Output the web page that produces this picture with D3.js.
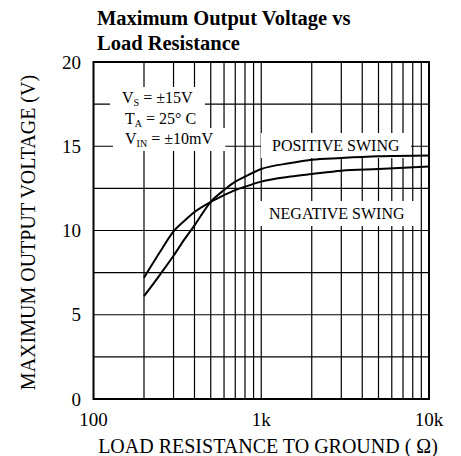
<!DOCTYPE html>
<html>
<head>
<meta charset="utf-8">
<script src="https://cdn.jsdelivr.net/npm/d3@7"></script>
<style>
  body { margin: 0; background: #fff; }
  text { font-family: "Liberation Serif", "Times New Roman", serif; fill: #000; }
</style>
</head>
<body>
<div id="chart"></div>
<script>
// Values
const resistance = [200, 250, 300, 350, 400, 500, 600, 700, 800, 1000, 1500, 2000, 3000, 5000, 10000];
const positiveSwing = [6.1, 7.4, 8.5, 9.5, 10.3, 11.7, 12.4, 12.9, 13.2, 13.65, 14.0, 14.2, 14.3, 14.4, 14.45];
const negativeSwing = [7.2, 8.75, 9.95, 10.6, 11.1, 11.7, 12.1, 12.4, 12.6, 12.9, 13.2, 13.35, 13.55, 13.65, 13.8];

const xTicks = [100, 1000, 10000];
const xTickLabels = ["100", "1k", "10k"];
const yTicks = [0, 5, 10, 15, 20];
const yGridLines = [2.5, 5, 7.5, 10, 12.5, 15, 17.5];

const width = 461, height = 456;
const plot = { left: 93.5, right: 429, top: 62, bottom: 399 };

const svg = d3.select('#chart').append('svg')
    .attr('width', width)
    .attr('height', height);

const x = d3.scaleLog().domain([100, 10000]).range([plot.left, plot.right]);
const y = d3.scaleLinear().domain([0, 20]).range([plot.bottom, plot.top]);

// grid
const grid = svg.append('g').attr('stroke', '#000').attr('stroke-width', 1.2);
grid.selectAll('.vgrid')
    .data(x.ticks().filter(d => d > 100 && d < 10000))
    .enter().append('line')
    .attr('x1', d => x(d)).attr('x2', d => x(d))
    .attr('y1', plot.top).attr('y2', plot.bottom);
grid.selectAll('.hgrid')
    .data(yGridLines)
    .enter().append('line')
    .attr('x1', plot.left).attr('x2', plot.right)
    .attr('y1', d => y(d)).attr('y2', d => y(d));

// white box behind a label so it breaks the grid
function boxedText(g, tx, padX, padY) {
    const bb = tx.node().getBBox();
    g.insert('rect', 'text')
        .attr('x', bb.x - padX).attr('y', bb.y - padY)
        .attr('width', bb.width + 2 * padX).attr('height', bb.height + 2 * padY)
        .attr('fill', '#fff');
}

const notes = svg.append('g').style('font-size', '16px');
const conditions = [
    { main: 'V', sub: 'S', rest: ' = \u00b115V', x: 122, y: 103 },
    { main: 'T', sub: 'A', rest: ' = 25\u00b0 C', x: 125, y: 124 },
    { main: 'V', sub: 'IN', rest: ' = \u00b110mV', x: 125, y: 144 }
];
conditions.forEach(c => {
    const t = notes.append('text').attr('x', c.x).attr('y', c.y);
    t.append('tspan').text(c.main);
    t.append('tspan').attr('dy', 3).style('font-size', '10px').text(c.sub);
    t.append('tspan').attr('dy', -3).text(c.rest);
    boxedText(notes, t, 12, 2);
});

const swingLabels = [
    { text: 'POSITIVE SWING', x: 272, y: 151 },
    { text: 'NEGATIVE SWING', x: 269, y: 219 }
];
swingLabels.forEach(s => {
    const t = notes.append('text').attr('x', s.x).attr('y', s.y).text(s.text);
    boxedText(notes, t, 11, 4);
});

// curves
const line = d3.line()
    .x(d => x(d[0]))
    .y(d => y(d[1]))
    .curve(d3.curveMonotoneX);

[positiveSwing, negativeSwing].forEach(series => {
    svg.append('path')
        .attr('d', line(resistance.map((r, i) => [r, series[i]])))
        .attr('fill', 'none')
        .attr('stroke', '#000')
        .attr('stroke-width', 2);
});

// frame
svg.append('rect')
    .attr('x', plot.left).attr('y', plot.top)
    .attr('width', plot.right - plot.left).attr('height', plot.bottom - plot.top)
    .attr('fill', 'none')
    .attr('stroke', '#000')
    .attr('stroke-width', 2);

// tick labels
svg.selectAll('.ylab')
    .data(yTicks)
    .enter().append('text')
    .attr('x', 81)
    .attr('y', d => y(d))
    .attr('dy', '0.35em')
    .attr('text-anchor', 'end')
    .style('font-size', '19px')
    .text(d => d);

svg.selectAll('.xlab')
    .data(xTicks)
    .enter().append('text')
    .attr('x', d => x(d))
    .attr('y', 426)
    .attr('text-anchor', 'middle')
    .style('font-size', '19px')
    .text((d, i) => xTickLabels[i]);

// axis titles
svg.append('text')
    .attr('x', 268)
    .attr('y', 453)
    .attr('text-anchor', 'middle')
    .style('font-size', '20px')
    .text('LOAD RESISTANCE TO GROUND ( \u03a9)');

svg.append('text')
    .attr('transform', `translate(35, ${(plot.top + plot.bottom) / 2 + 2}) rotate(-90)`)
    .attr('text-anchor', 'middle')
    .style('font-size', '20px')
    .text('MAXIMUM OUTPUT VOLTAGE (V)');

// title
const title = svg.append('text')
    .style('font-size', '20.5px')
    .style('font-weight', 'bold');
title.append('tspan').attr('x', 97).attr('y', 25).text('Maximum Output Voltage vs');
title.append('tspan').attr('x', 97).attr('y', 50).text('Load Resistance');
</script>
</body>
</html>
